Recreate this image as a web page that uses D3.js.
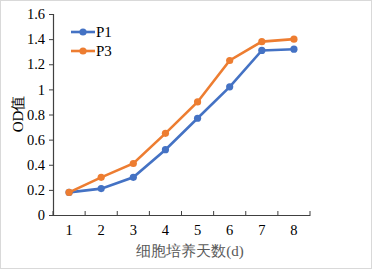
<!DOCTYPE html>
<html>
<head>
<meta charset="utf-8">
<script src="https://cdn.jsdelivr.net/npm/d3@7"></script>
<style>
  body { margin: 0; background: #fff; }
  svg { display: block; }
</style>
</head>
<body>
<div id="chart"></div>
<script>
// data
const days = ["1", "2", "3", "4", "5", "6", "7", "8"];
const p1 = [0.18, 0.21, 0.30, 0.52, 0.77, 1.02, 1.31, 1.32];
const p3 = [0.18, 0.30, 0.41, 0.65, 0.90, 1.23, 1.38, 1.40];
const yTicks = [0, 0.2, 0.4, 0.6, 0.8, 1, 1.2, 1.4, 1.6];

const series = [
    {name: "P1", values: p1, color: "#4472C4"},
    {name: "P3", values: p3, color: "#ED7D31"}
];

const W = 373, H = 270;
const margin = {top: 14, right: 63, bottom: 55, left: 53};
const width = W - margin.left - margin.right;
const height = H - margin.top - margin.bottom;
const font = "'Liberation Serif', 'Times New Roman', serif";

const svg = d3.select("#chart").append("svg")
    .attr("width", W)
    .attr("height", H);

// outer frame
svg.append("rect")
    .attr("x", 0.5).attr("y", 0.5)
    .attr("width", W - 2).attr("height", H - 2)
    .attr("fill", "#fff")
    .attr("stroke", "#d9d9d9");

const g = svg.append("g")
    .attr("transform", `translate(${margin.left},${margin.top})`);

const x = d3.scaleBand().domain(days).range([0, width]);
const y = d3.scaleLinear().domain([0, 1.6]).range([height, 0]);

// y axis
const yAxisG = g.append("g")
    .call(d3.axisLeft(y).tickValues(yTicks).tickSize(4).tickPadding(4)
        .tickFormat(d => d3.format("~g")(d)));
yAxisG.selectAll("text")
    .attr("font-family", font).attr("font-size", 14.5).attr("fill", "#000");

// x axis: ticks at category boundaries, pointing inward
const xAxisG = g.append("g").attr("transform", `translate(0,${height})`);
xAxisG.call(d3.axisBottom(x).tickSize(0).tickPadding(10));
xAxisG.selectAll("text")
    .attr("font-family", font).attr("font-size", 14.5).attr("fill", "#000");
xAxisG.selectAll(".bound")
    .data(d3.range(days.length + 1))
    .join("line")
    .attr("class", "bound")
    .attr("x1", i => i * x.step()).attr("x2", i => i * x.step())
    .attr("y1", 0).attr("y2", -4)
    .attr("stroke", "#404040");

g.selectAll(".domain").attr("stroke", "#404040").attr("stroke-width", 1.2);
g.selectAll(".tick line").attr("stroke", "#404040");

// lines
const line = d3.line()
    .x((d, i) => x(days[i]) + x.bandwidth() / 2)
    .y(d => y(d));

series.forEach(s => {
    g.append("path")
        .datum(s.values)
        .attr("fill", "none")
        .attr("stroke", s.color)
        .attr("stroke-width", 2.6)
        .attr("d", line);
    g.selectAll(null)
        .data(s.values)
        .join("circle")
        .attr("cx", (d, i) => x(days[i]) + x.bandwidth() / 2)
        .attr("cy", d => y(d))
        .attr("r", 3.6)
        .attr("fill", s.color);
});

// legend
const legend = svg.append("g").attr("transform", "translate(71,32)");
series.forEach((s, i) => {
    const row = legend.append("g").attr("transform", `translate(0,${i * 19})`);
    row.append("line")
        .attr("x1", 0).attr("x2", 24)
        .attr("stroke", s.color).attr("stroke-width", 2.6);
    row.append("circle").attr("cx", 12).attr("r", 3.6).attr("fill", s.color);
    row.append("text")
        .attr("x", 25).attr("y", 5)
        .attr("font-family", font).attr("font-size", 15)
        .attr("fill", "#000")
        .text(s.name);
});

// axis titles
svg.append("text")
    .attr("x", 190).attr("y", 256)
    .attr("text-anchor", "middle")
    .attr("font-family", font).attr("font-size", 15)
    .attr("fill", "#595959")
    .text("细胞培养天数(d)");

svg.append("text")
    .attr("transform", "translate(23,114) rotate(-90)")
    .attr("text-anchor", "middle")
    .attr("font-family", font).attr("font-size", 15)
    .attr("fill", "#000")
    .text("OD值");
</script>
</body>
</html>
